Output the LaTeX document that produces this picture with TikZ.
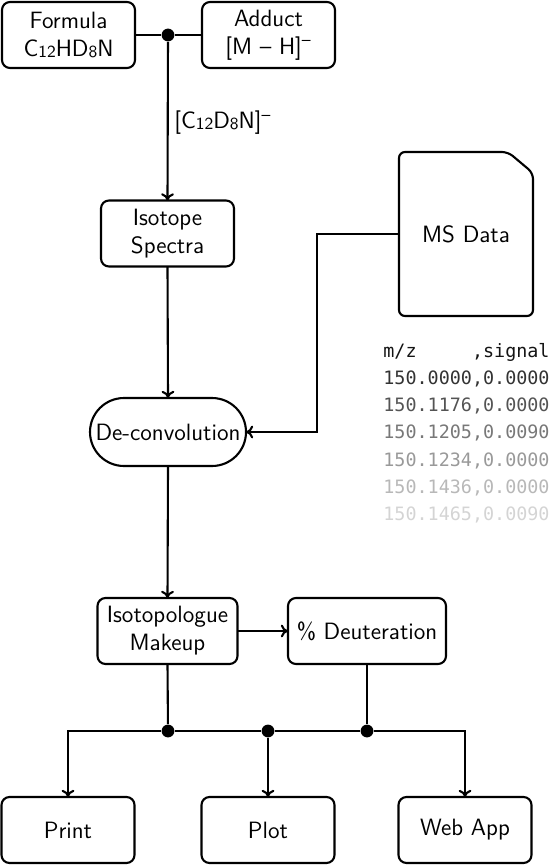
\documentclass[tikz,border=0pt]{standalone}
\usepackage{fontspec}
\newfontfamily\monofont{DejaVu Sans Mono}
\usetikzlibrary{shapes.misc,arrows.meta}
\definecolor{rowa}{gray}{0.08}
\definecolor{rowb}{gray}{0.20}
\definecolor{rowc}{gray}{0.33}
\definecolor{rowd}{gray}{0.47}
\definecolor{rowe}{gray}{0.60}
\definecolor{rowf}{gray}{0.72}
\definecolor{rowg}{gray}{0.83}
\newcommand{\smalldig}[1]{\raisebox{-0.4pt}{\fontsize{8.5}{9}\selectfont #1}}
\begin{document}
\begin{tikzpicture}[x=0.5pt,y=-0.5pt,
  every node/.style={font=\sffamily\fontsize{11.8}{14}\selectfont},
  box/.style={draw,rounded corners=4pt,line width=1.05pt,minimum width=66.5pt,minimum height=33pt,align=center,inner sep=2pt,outer sep=0pt},
  pill/.style={draw,rounded rectangle,line width=1.05pt,minimum width=82pt,minimum height=34pt,inner sep=2pt,outer sep=0pt},
  jdot/.style={circle,fill,inner sep=0pt,minimum size=6.4pt},
  conn/.style={line width=1.05pt},
  arr/.style={conn,-{To[length=3.6pt,width=6.4pt]}},
  datarow/.style={anchor=base west,inner sep=0pt,font=\monofont\fontsize{9.2}{11}\selectfont}
]
\useasboundingbox (0,0) rectangle (550,866);

% top row
\node[box] (formula) at (68.5,35) {Formula\\C\smalldig{12}HD\smalldig{8}N};
\node[box] (adduct) at (268.5,35) {Adduct\\{[M -- H]}\textsuperscript{--}};
\node[jdot] (d0) at (168,35) {};
\draw[conn] (formula.east) -- (d0) -- (adduct.west);

% isotope spectra
\node[box] (iso) at (167.5,233.5) {Isotope\\Spectra};
\draw[arr] (d0) -- (iso.north);
\node[anchor=west,inner sep=0pt] (ionlabel) at (174,123) {[C\smalldig{12}D\smalldig{8}N]\textsuperscript{--}};

% deconvolution
\node[pill] (deconv) at (168,432) {De-convolution};
\draw[arr] (iso.south) -- (deconv.north);

% MS data
\node[minimum width=67pt,minimum height=82pt,inner sep=0pt,outer sep=0pt] (msdata) at (466,234) {MS Data};
\draw[conn,rounded corners=3pt] (msdata.south west) -- (msdata.north west) -- ([xshift=-12.5pt]msdata.north east) -- ([yshift=-10.5pt]msdata.north east) -- (msdata.south east) -- cycle;
\coordinate (elb) at (317,234);
\draw[arr] (msdata.west) -- (elb) |- (deconv.east);

% data table
\node[datarow,text=rowa] (r0) at (383,357) {m/z\ \ \ \ \ ,signal};
\node[datarow,text=rowb] (r1) at (383,384.3) {150.0000,0.0000};
\node[datarow,text=rowc] (r2) at (383,411.6) {150.1176,0.0000};
\node[datarow,text=rowd] (r3) at (383,438.9) {150.1205,0.0090};
\node[datarow,text=rowe] (r4) at (383,466.2) {150.1234,0.0000};
\node[datarow,text=rowf] (r5) at (383,493.5) {150.1436,0.0000};
\node[datarow,text=rowg] (r6) at (383,520.8) {150.1465,0.0090};

% makeup and deuteration
\node[box,minimum width=70pt] (makeup) at (167.5,631) {Isotopologue\\Makeup};
\node[box,minimum width=79pt] (deut) at (367,631) {\% Deuteration};
\draw[arr] (deconv.south) -- (makeup.north);
\draw[arr] (makeup.east) -- (deut.west);

% outputs
\node[box] (print) at (68,830) {Print};
\node[box] (plot) at (268,830) {Plot};
\node[box] (webapp) at (465,830) {Web App};

\node[jdot] (d1) at (168,731) {};
\node[jdot] (d2) at (268,731) {};
\node[jdot] (d3) at (367,731) {};
\draw[conn] (makeup.south) -- (d1);
\draw[conn] (deut.south) -- (d3);
\draw[conn] (d1) -- (d2) -- (d3);
\draw[arr] (d1) -| (print.north);
\draw[arr] (d3) -| (webapp.north);
\draw[arr] (d2) -- (plot.north);
\end{tikzpicture}
\end{document}
